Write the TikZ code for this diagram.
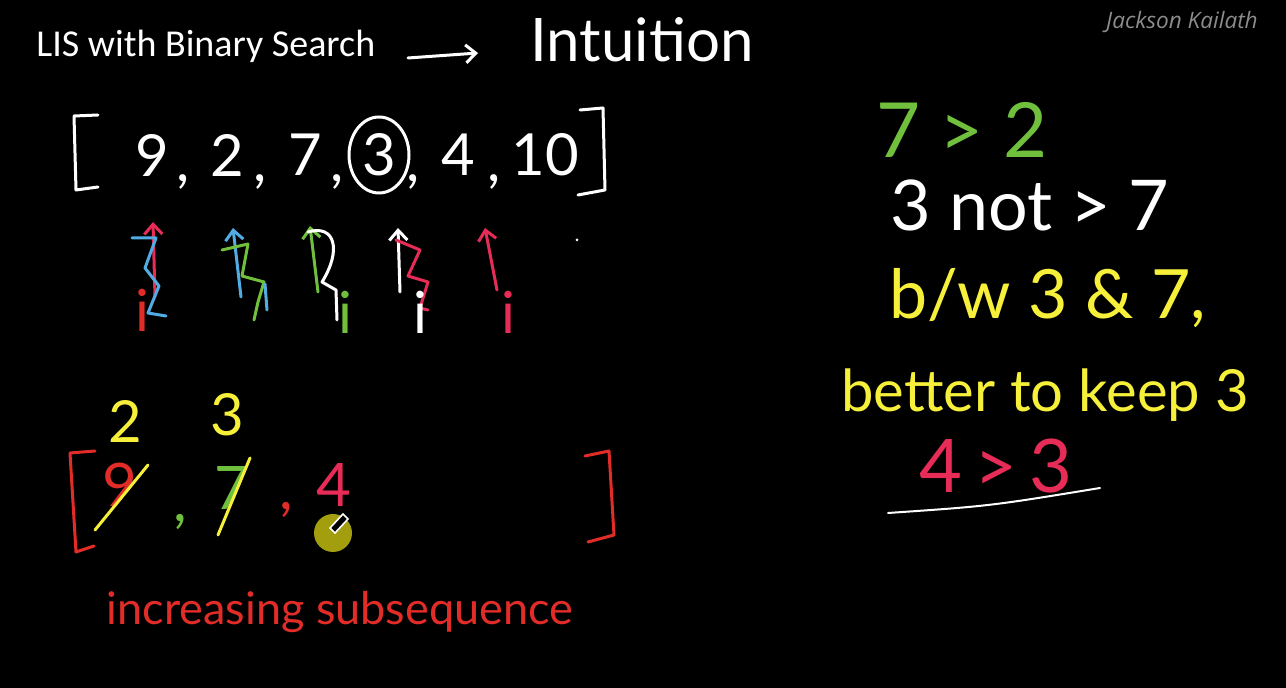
\documentclass[tikz,border=0pt]{standalone}
\usepackage{fontspec}
\setmainfont{Lato}
\newfontfamily\titlefont{Carlito}
\newfontfamily\markfont{Open Sans}
\usetikzlibrary{arrows.meta}

\definecolor{chalkgreen}{RGB}{112,192,62}
\definecolor{chalkyellow}{RGB}{246,240,58}
\definecolor{chalkred}{RGB}{226,44,40}
\definecolor{chalkpink}{RGB}{232,44,88}
\definecolor{chalkblue}{RGB}{82,172,228}
\definecolor{cursorolive}{RGB}{192,186,16}

\tikzset{
  chalk/.style={line width=1.5pt, line cap=round, line join=round},
  hand/.style={inner sep=0pt, text=white},
  numfont/.style={font=\fontsize{29}{31}\selectfont},
  notefont/.style={font=\fontsize{30}{32}\selectfont},
}

\begin{document}
\begin{tikzpicture}[x=0.5pt, y=-0.5pt, >={Straight Barb[length=5pt,width=9pt]}]
    \fill[black] (0,0) rectangle (1286,688);
    \useasboundingbox (0,0) rectangle (1286,688);

    % heading
    \node[hand, anchor=base west, font=\titlefont\fontsize{19}{21}\selectfont] (title) at (36,57) {LIS with Binary Search};
    \node[hand, font=\fontsize{30}{32}\selectfont] (intu) at (642,40) {Intuition};
    \coordinate (arrS) at (408,58);
    \coordinate (arrE) at (478,53);
    \draw[chalk, white, ->] (arrS) -- (arrE);
    \node[hand, text=gray!90, font=\markfont\itshape\fontsize{11.3}{13}\selectfont] (author) at (1182,22) {Jackson Kailath};

    % input array
    \draw[chalk, white] (98,115) -- (74,116) -- (76,190) -- (98,187);
    \draw[chalk, white] (580,110) -- (603,108) -- (605,190) -- (578,195);
    \foreach \v/\x [count=\k] in {9/152, 2/227, 7/305, 3/379, 4/458, 10/545}
        \node[hand, numfont] (a\k) at (\x,155) {\v};
    \foreach \x [count=\k] in {183,260,337,413,494}
        \node[hand, numfont] (c\k) at (\x,182) {,};
    \draw[chalk, white] (a4) ellipse [x radius=30, y radius=38];

    % pointers under the array
    \draw[chalk, chalkpink, ->] (155,297) -- (153,222);
    \draw[chalk, chalkblue] (132,238) -- (156,238) -- (145,268) -- (159,286) -- (148,313) -- (166,316);
    \node[hand, text=chalkred, numfont] (i1) at (142,310) {i};
    \draw[chalk, chalkblue, ->] (241,297) -- (233,228);
    \draw[chalk, chalkgreen] (222,250) -- (248,244) -- (242,276) -- (264,282) -- (258,302) -- (254,320);
    \draw[chalk, chalkblue] (265,284) -- (267,310);
    \draw[chalk, chalkgreen, ->] (318,292) -- (310,226);
    \draw[chalk, white] (308,232) .. controls (335,224) and (342,250) .. (322,282) -- (336,290) -- (337,320);
    \node[hand, text=chalkgreen, numfont] (i3) at (345,312) {i};
    \draw[chalk, white, ->] (400,292) -- (398,228);
    \draw[chalk, chalkpink] (396,240) -- (420,250) -- (408,276) -- (428,282) -- (420,308) -- (428,310);
    \node[hand, numfont] (i4) at (420,312) {i};
    \draw[chalk, chalkpink, ->] (497,290) -- (485,228);
    \node[hand, text=chalkpink, numfont] (i5) at (508,312) {i};
    \fill[white] (577,240) circle (1.5);

    % tails array
    \node[hand, text=chalkyellow, numfont] (s1) at (125,421) {2};
    \node[hand, text=chalkyellow, numfont] (s2) at (227,415) {3};
    \draw[chalk, chalkred] (95,451) -- (70,453) -- (76,552) -- (94,546);
    \node[hand, text=chalkred, notefont] (b1) at (120,485) {9};
    \draw[chalk, chalkyellow] (95,530) -- (148,465);
    \node[hand, text=chalkgreen, notefont] (bc1) at (180,522) {,};
    \node[hand, text=chalkgreen, notefont] (b2) at (232,488) {7};
    \draw[chalk, chalkyellow] (218,535) -- (250,458);
    \node[hand, text=chalkred, notefont] (bc2) at (286,510) {,};
    \node[hand, text=chalkpink, notefont] (b3) at (334,485) {4};
    \draw[chalk, chalkred] (585,456) -- (609,451) -- (614,535) -- (588,542);
    \fill[cursorolive, opacity=0.85] (333,533) circle (19);
    \draw[white, line width=0.8pt, fill=black] (330,528) -- (343,514) -- (348,519) -- (335,533) -- cycle;
    \node[hand, text=chalkred, font=\fontsize{22.5}{24}\selectfont] (incr) at (340,612) {increasing subsequence};

    % reasoning on the right
    \node[hand, text=chalkgreen, font=\fontsize{38}{40}\selectfont] (r1) at (962,130) {7 > 2};
    \node[hand, font=\fontsize{35}{37}\selectfont] (r2) at (1030,205) {3 not > 7};
    \node[hand, text=chalkyellow, font=\fontsize{34}{36}\selectfont] (r3) at (1048,298) {b/w 3 \& 7,};
    \node[hand, text=chalkyellow, font=\fontsize{29}{31}\selectfont] (r4) at (1045,395) {better to keep 3};
    \node[hand, text=chalkpink, font=\fontsize{37}{39}\selectfont] (r5) at (996,466) {4\,>\,3};
    \coordinate (ulS) at (888,513);
    \coordinate (ulE) at (1100,488);
    \draw[white, line width=1pt, line cap=round] (ulS) .. controls (990,506) .. (ulE);
\end{tikzpicture}
\end{document}
